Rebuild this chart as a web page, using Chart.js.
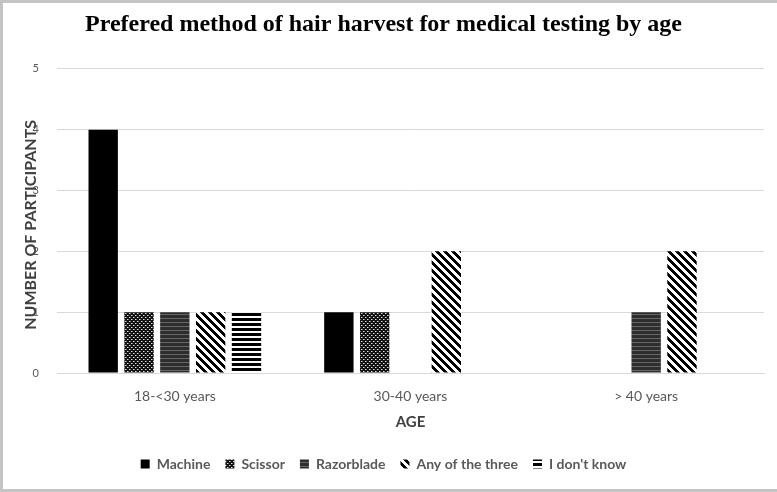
<!DOCTYPE html>
<html>
<head>
<meta charset="utf-8">
<script src="https://cdn.jsdelivr.net/npm/chart.js@4.4.1/dist/chart.umd.min.js"></script>
<style>
html,body{margin:0;padding:0;background:#fff;}
#wrap{position:relative;width:777px;height:492px;box-sizing:border-box;border-top:3px solid #c4c4c4;border-left:3px solid #c4c4c4;border-bottom:3px solid #c4c4c4;}
canvas{display:block;}
</style>
</head>
<body>
<div id="wrap"><canvas id="c" width="774" height="486"></canvas></div>
<script>
const categories = ["18-<30 years", "30-40 years", "> 40 years"];
const seriesNames = ["Machine", "Scissor", "Razorblade", "Any of the three", "I don't know"];
const machine = [4, 1, 0];
const scissor = [1, 1, 0];
const razorblade = [1, 0, 1];
const anyOfThree = [1, 2, 2];
const dontKnow = [1, 0, 0];
const yTicks = [0, 1, 2, 3, 4, 5];

function makePattern(w, h, draw) {
  const c = document.createElement('canvas');
  c.width = w; c.height = h;
  const g = c.getContext('2d');
  draw(g, w, h);
  return g.createPattern(c, 'repeat');
}
const ctx0 = document.getElementById('c').getContext('2d');
const pSolid = '#000000';
const pScissor = makePattern(4, 4, (g) => {
  g.fillStyle = '#111'; g.fillRect(0, 0, 4, 4);
  g.fillStyle = '#e0e0e0';
  g.fillRect(0, 0, 1, 1); g.fillRect(2, 2, 1, 1);
  g.fillStyle = '#777';
  g.fillRect(1, 0, 1, 1); g.fillRect(3, 2, 1, 1);
});
const pRazor = makePattern(4, 4, (g) => {
  g.fillStyle = '#2e2e2e'; g.fillRect(0, 0, 4, 4);
  g.fillStyle = '#666'; g.fillRect(0, 3, 4, 1);
});
const pAny = makePattern(8, 8, (g) => {
  g.fillStyle = '#fff'; g.fillRect(0, 0, 8, 8);
  g.fillStyle = '#000';
  for (let y = 0; y < 8; y++) for (let x = 0; x < 8; x++) {
    if ((((x - y) % 8) + 8) % 8 < 4) g.fillRect(x, y, 1, 1);
  }
});
const pDont = makePattern(5, 5, (g) => {
  g.fillStyle = '#fff'; g.fillRect(0, 0, 5, 5);
  g.fillStyle = '#000'; g.fillRect(0, 0, 5, 3);
});

const fills = [pSolid, pScissor, pRazor, pAny, pDont];
const values = [machine, scissor, razorblade, anyOfThree, dontKnow];

const yTitlePlugin = {
  id: 'yTitle',
  afterDraw(chart) {
    const ctx = chart.ctx;
    const a = chart.chartArea;
    ctx.save();
    ctx.translate(28, (a.top + a.bottom) / 2 + 4);
    ctx.rotate(-Math.PI / 2);
    ctx.font = 'bold 16px Lato';
    ctx.fillStyle = '#404040';
    ctx.textAlign = 'center';
    ctx.textBaseline = 'middle';
    ctx.fillText('NUMBER OF PARTICIPANTS', 0, 0);
    ctx.restore();
  }
};

new Chart(ctx0, {
  type: 'bar',
  data: {
    labels: categories,
    datasets: seriesNames.map((n, i) => ({
      label: n,
      data: values[i],
      backgroundColor: fills[i],
      borderWidth: 0,
      categoryPercentage: 0.76,
      barPercentage: 0.82
    }))
  },
  options: {
    responsive: false,
    animation: false,
    devicePixelRatio: 1,
    layout: { padding: { left: 0, right: 13, top: 0, bottom: 8 } },
    plugins: {
      title: {
        display: true,
        text: 'Prefered method of hair harvest for medical testing by age',
        font: { family: 'Liberation Serif', size: 24, weight: 'bold' },
        color: '#000',
        padding: { top: 7, bottom: 30 }
      },
      legend: {
        position: 'bottom',
        labels: {
          boxWidth: 9, boxHeight: 9, padding: 15,
          font: { family: 'Lato', size: 14, weight: 'bold' },
          color: '#595959'
        }
      },
      tooltip: { enabled: false }
    },
    scales: {
      x: {
        grid: { display: false, drawTicks: false },
        border: { color: '#d9d9d9' },
        ticks: { color: '#595959', font: { family: 'Lato', size: 14 }, padding: 15 },
        title: { display: true, text: 'AGE', color: '#404040', font: { family: 'Lato', size: 15, weight: 'bold' }, padding: { top: 0, bottom: 11 } },
        afterFit: (s) => { s.height = 69; }
      },
      y: {
        min: 0, max: 5,
        afterBuildTicks: (s) => { s.ticks = yTicks.map(v => ({ value: v })); },
        afterFit: (s) => { s.width = 54; },
        grid: { color: '#d9d9d9', drawTicks: false },
        border: { display: false },
        ticks: { color: '#595959', font: { family: 'Lato', size: 11 }, padding: 18 }
      }
    }
  },
  plugins: [yTitlePlugin]
});
</script>
</body>
</html>
